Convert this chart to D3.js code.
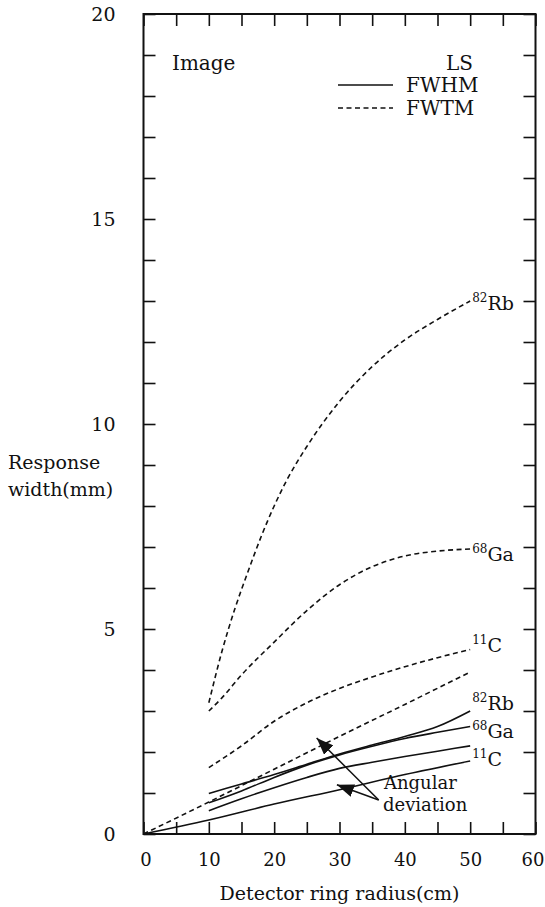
<!DOCTYPE html>
<html>
<head>
<meta charset="utf-8">
<script src="https://cdn.jsdelivr.net/npm/d3@7"></script>
<style>
  body { margin: 0; background: #fff; }
  text { font-family: "DejaVu Serif", serif; fill: #111; }
</style>
</head>
<body>
<div id="chart"></div>
<script>
// FWTM curves (dashed)
var rbTmX = [10, 12, 14, 16, 18, 20, 22, 25, 30, 35, 40, 45, 50];
var rbTmY = [3.2, 4.45, 5.5, 6.4, 7.25, 8.0, 8.65, 9.45, 10.55, 11.4, 12.05, 12.55, 13.0];
var gaTmX = [10, 12, 15, 20, 25, 30, 35, 40, 45, 50];
var gaTmY = [3.0, 3.32, 3.88, 4.68, 5.45, 6.08, 6.52, 6.78, 6.9, 6.95];
var cTmX = [10, 15, 20, 25, 30, 35, 40, 45, 50];
var cTmY = [1.62, 2.15, 2.75, 3.2, 3.55, 3.83, 4.08, 4.3, 4.5];
var angTmX = [0, 10, 20, 30, 40, 50];
var angTmY = [0, 0.78, 1.58, 2.38, 3.16, 3.95];

// FWHM curves (solid)
var rbHmX = [10, 15, 20, 25, 30, 35, 40, 45, 50];
var rbHmY = [0.99, 1.22, 1.45, 1.7, 1.95, 2.17, 2.38, 2.62, 3.0];
var gaHmX = [10, 15, 20, 25, 30, 35, 40, 45, 50];
var gaHmY = [0.76, 1.05, 1.38, 1.68, 1.93, 2.14, 2.33, 2.48, 2.62];
var cHmX = [10, 15, 20, 25, 30, 35, 40, 45, 50];
var cHmY = [0.57, 0.86, 1.13, 1.38, 1.6, 1.75, 1.89, 2.02, 2.15];
var angHmX = [0, 10, 20, 30, 40, 50];
var angHmY = [0, 0.34, 0.73, 1.08, 1.45, 1.78];

var xTicks = [0, 10, 20, 30, 40, 50, 60];
var yTicks = [0, 5, 10, 15, 20];

var w = 545, h = 907;
var svg = d3.select("#chart").append("svg").attr("width", w).attr("height", h);

var x = d3.scaleLinear().domain([0, 60]).range([143.5, 535.5]);
var y = d3.scaleLinear().domain([0, 20]).range([834, 14]);

function pts(xs, ys) {
  return xs.map(function (d, i) { return [d, ys[i]]; });
}

var series = [
  { p: pts(rbTmX, rbTmY), dash: true },
  { p: pts(gaTmX, gaTmY), dash: true },
  { p: pts(cTmX, cTmY), dash: true },
  { p: pts(angTmX, angTmY), dash: true },
  { p: pts(rbHmX, rbHmY), dash: false },
  { p: pts(gaHmX, gaHmY), dash: false },
  { p: pts(cHmX, cHmY), dash: false },
  { p: pts(angHmX, angHmY), dash: false }
];

// axes: inward ticks on all four sides
function styleAxis(g) {
  g.select(".domain").remove();
  g.selectAll(".tick line").attr("stroke", "#111").attr("stroke-width", 1.6);
  g.selectAll("text").style("font-family", "DejaVu Serif").style("font-size", "19px").attr("fill", "#111");
}

svg.append("g")
  .attr("transform", "translate(" + x(0) + ",0)")
  .call(d3.axisLeft(y).tickValues(d3.range(0, 21)).tickSizeInner(-12).tickSizeOuter(0).tickPadding(28)
    .tickFormat(function (d) { return yTicks.indexOf(d) >= 0 ? d : ""; }))
  .call(styleAxis);

svg.append("g")
  .attr("transform", "translate(" + x(60) + ",0)")
  .call(d3.axisRight(y).tickValues(d3.range(0, 21)).tickSizeInner(-12).tickSizeOuter(0).tickFormat(""))
  .call(styleAxis);

var bottom = svg.append("g")
  .attr("transform", "translate(0," + y(0) + ")")
  .call(d3.axisBottom(x).tickValues(d3.range(0, 61, 5)).tickSizeInner(-12).tickSizeOuter(0).tickPadding(19)
    .tickFormat(function (d) { return xTicks.indexOf(d) >= 0 ? d : ""; }))
  .call(styleAxis);
bottom.selectAll("text").style("font-size", "18px")
  .attr("dx", function (d) { return d === 60 ? -3 : (d === 0 ? 2 : 0); });

svg.append("g")
  .attr("transform", "translate(0," + y(20) + ")")
  .call(d3.axisTop(x).tickValues(d3.range(0, 61, 5)).tickSizeInner(-12).tickSizeOuter(0).tickFormat(""))
  .call(styleAxis);

svg.append("rect")
  .attr("x", x(0)).attr("y", y(20))
  .attr("width", x(60) - x(0)).attr("height", y(0) - y(20))
  .attr("fill", "none").attr("stroke", "#111").attr("stroke-width", 2);

var line = d3.line()
  .x(function (d) { return x(d[0]); })
  .y(function (d) { return y(d[1]); })
  .curve(d3.curveMonotoneX);

svg.selectAll("path.curve")
  .data(series)
  .enter()
  .append("path")
  .attr("class", "curve")
  .attr("d", function (d) { return line(d.p); })
  .attr("fill", "none")
  .attr("stroke", "#111")
  .attr("stroke-width", 1.6)
  .attr("stroke-dasharray", function (d) { return d.dash ? "5,3.5" : null; });

// isotope labels next to the line ends
var labels = [
  { sup: "82", main: "Rb", p: rbTmY, dy: 2 },
  { sup: "68", main: "Ga", p: gaTmY, dy: 5 },
  { sup: "11", main: "C", p: cTmY, dy: -5 },
  { sup: "82", main: "Rb", p: rbHmY, dy: -8 },
  { sup: "68", main: "Ga", p: gaHmY, dy: 4 },
  { sup: "11", main: "C", p: cHmY, dy: 13 }
];
labels.forEach(function (l) {
  var ex = x(50), ey = y(l.p[l.p.length - 1]) + l.dy;
  var t = svg.append("text").attr("x", ex + 2).attr("y", ey + 7).style("font-size", "19px");
  t.append("tspan").text(l.sup).style("font-size", "12px").attr("dy", -8);
  t.append("tspan").text(l.main).attr("dy", 8);
});

// legend
svg.append("text").attr("x", 172).attr("y", 70).style("font-size", "20px").text("Image");
svg.append("text").attr("x", 473).attr("y", 70).attr("text-anchor", "end").style("font-size", "20px").text("LS");
svg.append("line").attr("x1", 338).attr("x2", 393).attr("y1", 85).attr("y2", 85)
  .attr("stroke", "#111").attr("stroke-width", 1.5);
svg.append("line").attr("x1", 338).attr("x2", 393).attr("y1", 108).attr("y2", 108)
  .attr("stroke", "#111").attr("stroke-width", 1.5).attr("stroke-dasharray", "5,3.5");
svg.append("text").attr("x", 406).attr("y", 92).style("font-size", "20px").text("FWHM");
svg.append("text").attr("x", 406).attr("y", 115).style("font-size", "20px").text("FWTM");

// angular deviation arrows
svg.append("defs").append("marker")
  .attr("id", "head")
  .attr("markerUnits", "userSpaceOnUse")
  .attr("viewBox", "0 0 17 13")
  .attr("markerWidth", 17).attr("markerHeight", 13)
  .attr("refX", 17).attr("refY", 6.5)
  .attr("orient", "auto")
  .append("path").attr("d", "M0,0L17,6.5L0,13Z").attr("fill", "#111");

var tail = [36.0, 0.83];
var tips = [[26.5, 2.34], [29.6, 1.2]];
svg.selectAll("line.arrow")
  .data(tips)
  .enter()
  .append("line")
  .attr("class", "arrow")
  .attr("x1", x(tail[0])).attr("y1", y(tail[1]))
  .attr("x2", function (d) { return x(d[0]); })
  .attr("y2", function (d) { return y(d[1]); })
  .attr("stroke", "#111").attr("stroke-width", 1.5)
  .attr("marker-end", "url(#head)");

svg.append("text").attr("x", 384).attr("y", 789).style("font-size", "18px").text("Angular");
svg.append("text").attr("x", 383).attr("y", 811).style("font-size", "18px").text("deviation");

// axis titles
svg.append("text").attr("x", 8).attr("y", 469).style("font-size", "19px").text("Response");
svg.append("text").attr("x", 8).attr("y", 496).style("font-size", "19px").text("width(mm)");
svg.append("text").attr("x", x(30)).attr("y", 900).attr("text-anchor", "middle").style("font-size", "19px")
  .text("Detector ring radius(cm)");
</script>
</body>
</html>
